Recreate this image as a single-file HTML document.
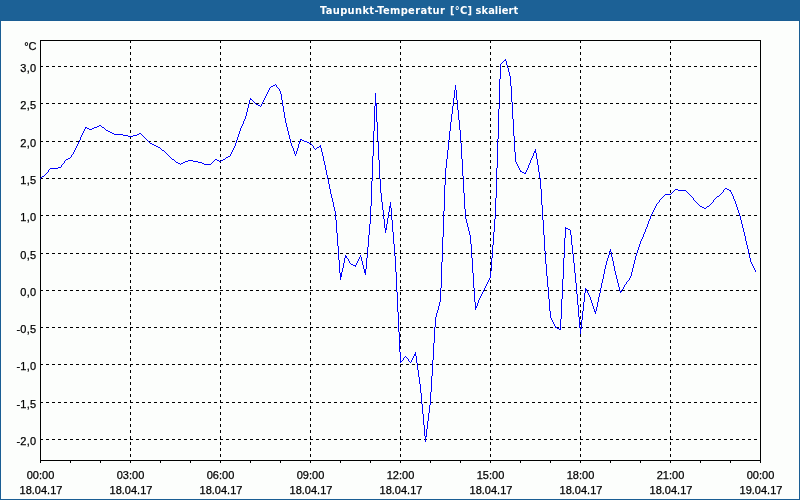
<!DOCTYPE html>
<html><head><meta charset="utf-8"><title>Taupunkt-Temperatur</title>
<style>
html,body{margin:0;padding:0;background:#fcfefc;}
#w{position:relative;width:800px;height:500px;overflow:hidden;background:#fcfefc;}
#t{position:absolute;left:0;top:0;width:800px;height:20px;background:#1c6196;color:#fff;font:bold 11px "DejaVu Sans Condensed","Liberation Sans",sans-serif;letter-spacing:0.29px;white-space:nowrap;line-height:20px;}
#t span{position:absolute;top:1px;}
#bl,#br,#bb,#bt{position:absolute;background:#1a5e94;}
#bt{left:0;top:20px;width:800px;height:1px;}
#bl{left:0;top:20px;width:1px;height:480px;}
#br{left:799px;top:20px;width:1px;height:480px;}
#bb{left:0;top:499px;width:800px;height:1px;}
</style></head><body>
<div id="w">
<svg width="800" height="500" viewBox="0 0 800 500" style="position:absolute;left:0;top:0">
<g shape-rendering="crispEdges" stroke="#000" stroke-width="1" fill="none">
<line x1="40" y1="66.5" x2="760" y2="66.5" stroke-dasharray="3 3"/>
<line x1="40" y1="103.5" x2="760" y2="103.5" stroke-dasharray="3 3"/>
<line x1="40" y1="141.5" x2="760" y2="141.5" stroke-dasharray="3 3"/>
<line x1="40" y1="178.5" x2="760" y2="178.5" stroke-dasharray="3 3"/>
<line x1="40" y1="215.5" x2="760" y2="215.5" stroke-dasharray="3 3"/>
<line x1="40" y1="253.5" x2="760" y2="253.5" stroke-dasharray="3 3"/>
<line x1="40" y1="290.5" x2="760" y2="290.5" stroke-dasharray="3 3"/>
<line x1="40" y1="327.5" x2="760" y2="327.5" stroke-dasharray="3 3"/>
<line x1="40" y1="364.5" x2="760" y2="364.5" stroke-dasharray="3 3"/>
<line x1="40" y1="402.5" x2="760" y2="402.5" stroke-dasharray="3 3"/>
<line x1="40" y1="439.5" x2="760" y2="439.5" stroke-dasharray="3 3"/>
<line x1="130.5" y1="40" x2="130.5" y2="460" stroke-dasharray="3 3"/>
<line x1="220.5" y1="40" x2="220.5" y2="460" stroke-dasharray="3 3"/>
<line x1="310.5" y1="40" x2="310.5" y2="460" stroke-dasharray="3 3"/>
<line x1="400.5" y1="40" x2="400.5" y2="460" stroke-dasharray="3 3"/>
<line x1="490.5" y1="40" x2="490.5" y2="460" stroke-dasharray="3 3"/>
<line x1="580.5" y1="40" x2="580.5" y2="460" stroke-dasharray="3 3"/>
<line x1="670.5" y1="40" x2="670.5" y2="460" stroke-dasharray="3 3"/>
<rect x="40.5" y="40.5" width="720" height="420"/>
<line x1="40.5" y1="460" x2="40.5" y2="463"/>
<line x1="70.5" y1="460" x2="70.5" y2="463"/>
<line x1="100.5" y1="460" x2="100.5" y2="463"/>
<line x1="130.5" y1="460" x2="130.5" y2="463"/>
<line x1="160.5" y1="460" x2="160.5" y2="463"/>
<line x1="190.5" y1="460" x2="190.5" y2="463"/>
<line x1="220.5" y1="460" x2="220.5" y2="463"/>
<line x1="250.5" y1="460" x2="250.5" y2="463"/>
<line x1="280.5" y1="460" x2="280.5" y2="463"/>
<line x1="310.5" y1="460" x2="310.5" y2="463"/>
<line x1="340.5" y1="460" x2="340.5" y2="463"/>
<line x1="370.5" y1="460" x2="370.5" y2="463"/>
<line x1="400.5" y1="460" x2="400.5" y2="463"/>
<line x1="430.5" y1="460" x2="430.5" y2="463"/>
<line x1="460.5" y1="460" x2="460.5" y2="463"/>
<line x1="490.5" y1="460" x2="490.5" y2="463"/>
<line x1="520.5" y1="460" x2="520.5" y2="463"/>
<line x1="550.5" y1="460" x2="550.5" y2="463"/>
<line x1="580.5" y1="460" x2="580.5" y2="463"/>
<line x1="610.5" y1="460" x2="610.5" y2="463"/>
<line x1="640.5" y1="460" x2="640.5" y2="463"/>
<line x1="670.5" y1="460" x2="670.5" y2="463"/>
<line x1="700.5" y1="460" x2="700.5" y2="463"/>
<line x1="730.5" y1="460" x2="730.5" y2="463"/>
<line x1="760.5" y1="460" x2="760.5" y2="463"/>
</g>
<path shape-rendering="crispEdges" fill="#0000ff" stroke="none" d="M40 178h1v1h-1zM41 177h1v1h-1zM42 176h1v1h-1zM43 176h1v1h-1zM44 175h1v1h-1zM45 174h1v1h-1zM46 173h1v1h-1zM47 172h1v1h-1zM48 170h1v2h-1zM49 169h1v1h-1zM50 168h1v1h-1zM51 168h1v1h-1zM52 168h1v1h-1zM53 168h1v1h-1zM54 168h1v1h-1zM55 168h1v1h-1zM56 168h1v1h-1zM57 168h1v1h-1zM58 167h1v1h-1zM59 167h1v1h-1zM60 167h1v1h-1zM61 165h1v2h-1zM62 164h1v1h-1zM63 163h1v1h-1zM64 161h1v2h-1zM65 160h1v1h-1zM66 159h1v1h-1zM67 159h1v1h-1zM68 158h1v1h-1zM69 158h1v1h-1zM70 157h1v1h-1zM71 155h1v2h-1zM72 154h1v1h-1zM73 152h1v2h-1zM74 150h1v2h-1zM75 148h1v2h-1zM76 146h1v2h-1zM77 144h1v2h-1zM78 142h1v2h-1zM79 140h1v2h-1zM80 137h1v3h-1zM81 135h1v2h-1zM82 133h1v2h-1zM83 131h1v2h-1zM84 129h1v2h-1zM85 127h1v2h-1zM86 127h1v1h-1zM87 128h1v1h-1zM88 128h1v1h-1zM89 129h1v1h-1zM90 129h1v1h-1zM91 129h1v1h-1zM92 128h1v1h-1zM93 128h1v1h-1zM94 127h1v1h-1zM95 127h1v1h-1zM96 127h1v1h-1zM97 126h1v1h-1zM98 126h1v1h-1zM99 125h1v1h-1zM100 125h1v1h-1zM101 126h1v1h-1zM102 127h1v1h-1zM103 127h1v1h-1zM104 128h1v1h-1zM105 129h1v1h-1zM106 130h1v1h-1zM107 130h1v1h-1zM108 131h1v1h-1zM109 131h1v1h-1zM110 132h1v1h-1zM111 132h1v1h-1zM112 133h1v1h-1zM113 133h1v1h-1zM114 134h1v1h-1zM115 134h1v1h-1zM116 134h1v1h-1zM117 134h1v1h-1zM118 134h1v1h-1zM119 134h1v1h-1zM120 134h1v1h-1zM121 134h1v1h-1zM122 134h1v1h-1zM123 135h1v1h-1zM124 135h1v1h-1zM125 135h1v1h-1zM126 135h1v1h-1zM127 135h1v1h-1zM128 136h1v1h-1zM129 136h1v1h-1zM130 136h1v1h-1zM131 136h1v1h-1zM132 136h1v1h-1zM133 135h1v1h-1zM134 135h1v1h-1zM135 135h1v1h-1zM136 135h1v1h-1zM137 134h1v1h-1zM138 134h1v1h-1zM139 133h1v1h-1zM140 133h1v1h-1zM141 134h1v1h-1zM142 135h1v1h-1zM143 136h1v1h-1zM144 137h1v1h-1zM145 138h1v1h-1zM146 139h1v1h-1zM147 140h1v1h-1zM148 141h1v1h-1zM149 142h1v1h-1zM150 143h1v1h-1zM151 143h1v1h-1zM152 144h1v1h-1zM153 144h1v1h-1zM154 145h1v1h-1zM155 145h1v1h-1zM156 146h1v1h-1zM157 146h1v1h-1zM158 147h1v1h-1zM159 147h1v1h-1zM160 148h1v1h-1zM161 149h1v1h-1zM162 150h1v1h-1zM163 150h1v1h-1zM164 151h1v1h-1zM165 152h1v1h-1zM166 153h1v1h-1zM167 154h1v1h-1zM168 155h1v1h-1zM169 156h1v1h-1zM170 157h1v1h-1zM171 158h1v1h-1zM172 159h1v1h-1zM173 159h1v1h-1zM174 160h1v1h-1zM175 161h1v1h-1zM176 162h1v1h-1zM177 162h1v1h-1zM178 163h1v1h-1zM179 163h1v1h-1zM180 164h1v1h-1zM181 163h1v1h-1zM182 163h1v1h-1zM183 162h1v1h-1zM184 162h1v1h-1zM185 161h1v1h-1zM186 161h1v1h-1zM187 161h1v1h-1zM188 160h1v1h-1zM189 160h1v1h-1zM190 160h1v1h-1zM191 160h1v1h-1zM192 160h1v1h-1zM193 161h1v1h-1zM194 161h1v1h-1zM195 161h1v1h-1zM196 161h1v1h-1zM197 161h1v1h-1zM198 162h1v1h-1zM199 162h1v1h-1zM200 162h1v1h-1zM201 162h1v1h-1zM202 163h1v1h-1zM203 163h1v1h-1zM204 164h1v1h-1zM205 164h1v1h-1zM206 164h1v1h-1zM207 164h1v1h-1zM208 164h1v1h-1zM209 164h1v1h-1zM210 164h1v1h-1zM211 163h1v1h-1zM212 162h1v1h-1zM213 161h1v1h-1zM214 160h1v1h-1zM215 159h1v1h-1zM216 159h1v1h-1zM217 160h1v1h-1zM218 160h1v1h-1zM219 161h1v1h-1zM220 161h1v1h-1zM221 160h1v1h-1zM222 160h1v1h-1zM223 159h1v1h-1zM224 159h1v1h-1zM225 158h1v1h-1zM226 157h1v1h-1zM227 157h1v1h-1zM228 156h1v1h-1zM229 156h1v1h-1zM230 154h1v2h-1zM231 152h1v2h-1zM232 150h1v2h-1zM233 148h1v2h-1zM234 146h1v2h-1zM235 143h1v3h-1zM236 140h1v3h-1zM237 137h1v3h-1zM238 134h1v3h-1zM239 131h1v3h-1zM240 128h1v3h-1zM241 126h1v2h-1zM242 124h1v2h-1zM243 121h1v3h-1zM244 119h1v2h-1zM245 116h1v3h-1zM246 112h1v4h-1zM247 108h1v4h-1zM248 104h1v4h-1zM249 100h1v4h-1zM250 98h1v2h-1zM251 99h1v1h-1zM252 100h1v1h-1zM253 101h1v1h-1zM254 102h1v1h-1zM255 103h1v1h-1zM256 104h1v1h-1zM257 104h1v1h-1zM258 105h1v1h-1zM259 105h1v1h-1zM260 106h1v1h-1zM261 104h1v2h-1zM262 102h1v2h-1zM263 100h1v2h-1zM264 98h1v2h-1zM265 96h1v2h-1zM266 94h1v2h-1zM267 92h1v2h-1zM268 90h1v2h-1zM269 88h1v2h-1zM270 87h1v1h-1zM271 86h1v1h-1zM272 86h1v1h-1zM273 85h1v1h-1zM274 85h1v1h-1zM275 84h1v1h-1zM276 85h1v2h-1zM277 87h1v1h-1zM278 88h1v1h-1zM279 89h1v2h-1zM280 91h1v3h-1zM281 94h1v6h-1zM282 100h1v6h-1zM283 106h1v6h-1zM284 112h1v6h-1zM285 118h1v5h-1zM286 123h1v4h-1zM287 127h1v4h-1zM288 131h1v4h-1zM289 135h1v4h-1zM290 139h1v4h-1zM291 143h1v3h-1zM292 146h1v2h-1zM293 148h1v3h-1zM294 151h1v3h-1zM295 154h1v2h-1zM296 151h1v3h-1zM297 148h1v3h-1zM298 144h1v4h-1zM299 141h1v3h-1zM300 139h1v2h-1zM301 139h1v1h-1zM302 140h1v1h-1zM303 140h1v1h-1zM304 141h1v1h-1zM305 141h1v1h-1zM306 141h1v1h-1zM307 142h1v1h-1zM308 142h1v1h-1zM309 143h1v1h-1zM310 143h1v1h-1zM311 144h1v1h-1zM312 145h1v1h-1zM313 146h1v2h-1zM314 148h1v1h-1zM315 149h1v1h-1zM316 148h1v1h-1zM317 147h1v1h-1zM318 147h1v1h-1zM319 146h1v1h-1zM320 145h1v3h-1zM321 148h1v4h-1zM322 152h1v4h-1zM323 156h1v5h-1zM324 161h1v4h-1zM325 165h1v5h-1zM326 170h1v5h-1zM327 175h1v4h-1zM328 179h1v5h-1zM329 184h1v5h-1zM330 189h1v5h-1zM331 194h1v4h-1zM332 198h1v4h-1zM333 202h1v5h-1zM334 207h1v4h-1zM335 211h1v9h-1zM336 220h1v13h-1zM337 233h1v13h-1zM338 246h1v14h-1zM339 260h1v13h-1zM340 273h1v7h-1zM341 272h1v5h-1zM342 268h1v4h-1zM343 263h1v5h-1zM344 258h1v5h-1zM345 255h1v3h-1zM346 256h1v2h-1zM347 258h1v1h-1zM348 259h1v2h-1zM349 261h1v2h-1zM350 263h1v1h-1zM351 264h1v1h-1zM352 264h1v1h-1zM353 265h1v1h-1zM354 265h1v1h-1zM355 265h1v2h-1zM356 263h1v2h-1zM357 261h1v2h-1zM358 259h1v2h-1zM359 257h1v2h-1zM360 255h1v2h-1zM361 257h1v4h-1zM362 261h1v4h-1zM363 265h1v4h-1zM364 269h1v4h-1zM365 269h1v6h-1zM366 258h1v11h-1zM367 247h1v11h-1zM368 235h1v12h-1zM369 224h1v11h-1zM370 206h1v18h-1zM371 181h1v25h-1zM372 156h1v25h-1zM373 131h1v25h-1zM374 106h1v25h-1zM375 93h1v13h-1zM376 103h1v19h-1zM377 122h1v19h-1zM378 141h1v19h-1zM379 160h1v19h-1zM380 179h1v14h-1zM381 193h1v9h-1zM382 202h1v8h-1zM383 210h1v9h-1zM384 219h1v9h-1zM385 228h1v5h-1zM386 224h1v6h-1zM387 218h1v6h-1zM388 212h1v6h-1zM389 206h1v6h-1zM390 202h1v6h-1zM391 208h1v12h-1zM392 220h1v12h-1zM393 232h1v12h-1zM394 244h1v12h-1zM395 256h1v16h-1zM396 272h1v20h-1zM397 292h1v20h-1zM398 312h1v20h-1zM399 332h1v20h-1zM400 352h1v11h-1zM401 361h1v1h-1zM402 360h1v1h-1zM403 358h1v2h-1zM404 357h1v1h-1zM405 356h1v1h-1zM406 357h1v1h-1zM407 358h1v1h-1zM408 359h1v2h-1zM409 361h1v1h-1zM410 362h1v1h-1zM411 360h1v2h-1zM412 358h1v2h-1zM413 356h1v2h-1zM414 354h1v2h-1zM415 352h1v4h-1zM416 356h1v7h-1zM417 363h1v7h-1zM418 370h1v7h-1zM419 377h1v7h-1zM420 384h1v9h-1zM421 393h1v11h-1zM422 404h1v10h-1zM423 414h1v11h-1zM424 425h1v11h-1zM425 436h1v6h-1zM426 429h1v8h-1zM427 421h1v8h-1zM428 413h1v8h-1zM429 405h1v8h-1zM430 392h1v13h-1zM431 376h1v16h-1zM432 360h1v16h-1zM433 343h1v17h-1zM434 327h1v16h-1zM435 317h1v10h-1zM436 313h1v4h-1zM437 310h1v3h-1zM438 306h1v4h-1zM439 302h1v4h-1zM440 288h1v14h-1zM441 262h1v26h-1zM442 237h1v25h-1zM443 211h1v26h-1zM444 185h1v26h-1zM445 168h1v17h-1zM446 159h1v9h-1zM447 150h1v9h-1zM448 140h1v10h-1zM449 131h1v9h-1zM450 122h1v9h-1zM451 114h1v8h-1zM452 106h1v8h-1zM453 98h1v8h-1zM454 90h1v8h-1zM455 85h1v5h-1zM456 90h1v10h-1zM457 100h1v10h-1zM458 110h1v10h-1zM459 120h1v10h-1zM460 130h1v13h-1zM461 143h1v16h-1zM462 159h1v17h-1zM463 176h1v17h-1zM464 193h1v16h-1zM465 209h1v10h-1zM466 219h1v4h-1zM467 223h1v4h-1zM468 227h1v4h-1zM469 231h1v4h-1zM470 235h1v9h-1zM471 244h1v14h-1zM472 258h1v15h-1zM473 273h1v15h-1zM474 288h1v14h-1zM475 302h1v8h-1zM476 306h1v2h-1zM477 303h1v3h-1zM478 300h1v3h-1zM479 298h1v2h-1zM480 296h1v2h-1zM481 294h1v2h-1zM482 292h1v2h-1zM483 290h1v2h-1zM484 288h1v2h-1zM485 286h1v2h-1zM486 284h1v2h-1zM487 282h1v2h-1zM488 280h1v2h-1zM489 278h1v2h-1zM490 271h1v7h-1zM491 258h1v13h-1zM492 245h1v13h-1zM493 232h1v13h-1zM494 219h1v13h-1zM495 198h1v21h-1zM496 168h1v30h-1zM497 139h1v29h-1zM498 109h1v30h-1zM499 79h1v30h-1zM500 64h1v15h-1zM501 63h1v1h-1zM502 62h1v1h-1zM503 61h1v1h-1zM504 60h1v1h-1zM505 59h1v2h-1zM506 61h1v4h-1zM507 65h1v3h-1zM508 68h1v4h-1zM509 72h1v4h-1zM510 76h1v10h-1zM511 86h1v16h-1zM512 102h1v17h-1zM513 119h1v17h-1zM514 136h1v16h-1zM515 152h1v10h-1zM516 162h1v2h-1zM517 164h1v2h-1zM518 166h1v2h-1zM519 168h1v2h-1zM520 170h1v2h-1zM521 171h1v1h-1zM522 172h1v1h-1zM523 172h1v1h-1zM524 173h1v1h-1zM525 172h1v2h-1zM526 170h1v2h-1zM527 168h1v2h-1zM528 165h1v3h-1zM529 163h1v2h-1zM530 160h1v3h-1zM531 158h1v2h-1zM532 156h1v2h-1zM533 153h1v3h-1zM534 151h1v2h-1zM535 149h1v4h-1zM536 153h1v6h-1zM537 159h1v6h-1zM538 165h1v7h-1zM539 172h1v6h-1zM540 178h1v11h-1zM541 189h1v16h-1zM542 205h1v15h-1zM543 220h1v15h-1zM544 235h1v16h-1zM545 251h1v13h-1zM546 264h1v12h-1zM547 276h1v11h-1zM548 287h1v12h-1zM549 299h1v12h-1zM550 311h1v7h-1zM551 318h1v2h-1zM552 320h1v2h-1zM553 322h1v2h-1zM554 324h1v2h-1zM555 326h1v2h-1zM556 327h1v1h-1zM557 328h1v1h-1zM558 328h1v1h-1zM559 329h1v1h-1zM560 319h1v11h-1zM561 299h1v20h-1zM562 279h1v20h-1zM563 258h1v21h-1zM564 238h1v20h-1zM565 227h1v11h-1zM566 228h1v1h-1zM567 228h1v1h-1zM568 229h1v1h-1zM569 229h1v1h-1zM570 230h1v5h-1zM571 235h1v10h-1zM572 245h1v9h-1zM573 254h1v9h-1zM574 263h1v10h-1zM575 273h1v10h-1zM576 283h1v11h-1zM577 294h1v11h-1zM578 305h1v12h-1zM579 317h1v11h-1zM580 328h1v6h-1zM581 320h1v9h-1zM582 311h1v9h-1zM583 302h1v9h-1zM584 293h1v9h-1zM585 288h1v5h-1zM586 289h1v2h-1zM587 291h1v2h-1zM588 293h1v2h-1zM589 295h1v2h-1zM590 297h1v3h-1zM591 300h1v3h-1zM592 303h1v3h-1zM593 306h1v3h-1zM594 309h1v3h-1zM595 311h1v3h-1zM596 307h1v4h-1zM597 302h1v5h-1zM598 297h1v5h-1zM599 293h1v4h-1zM600 288h1v5h-1zM601 283h1v5h-1zM602 279h1v4h-1zM603 274h1v5h-1zM604 269h1v5h-1zM605 265h1v4h-1zM606 261h1v4h-1zM607 258h1v3h-1zM608 255h1v3h-1zM609 251h1v4h-1zM610 249h1v3h-1zM611 252h1v5h-1zM612 257h1v4h-1zM613 261h1v5h-1zM614 266h1v5h-1zM615 271h1v4h-1zM616 275h1v4h-1zM617 279h1v4h-1zM618 283h1v4h-1zM619 287h1v4h-1zM620 291h1v2h-1zM621 290h1v2h-1zM622 289h1v1h-1zM623 287h1v2h-1zM624 285h1v2h-1zM625 284h1v1h-1zM626 282h1v2h-1zM627 281h1v1h-1zM628 280h1v1h-1zM629 278h1v2h-1zM630 276h1v2h-1zM631 272h1v4h-1zM632 268h1v4h-1zM633 264h1v4h-1zM634 260h1v4h-1zM635 256h1v4h-1zM636 253h1v3h-1zM637 250h1v3h-1zM638 247h1v3h-1zM639 244h1v3h-1zM640 241h1v3h-1zM641 239h1v2h-1zM642 237h1v2h-1zM643 234h1v3h-1zM644 232h1v2h-1zM645 229h1v3h-1zM646 227h1v2h-1zM647 224h1v3h-1zM648 221h1v3h-1zM649 219h1v2h-1zM650 216h1v3h-1zM651 214h1v2h-1zM652 212h1v2h-1zM653 210h1v2h-1zM654 208h1v2h-1zM655 206h1v2h-1zM656 204h1v2h-1zM657 203h1v1h-1zM658 202h1v1h-1zM659 200h1v2h-1zM660 199h1v1h-1zM661 198h1v1h-1zM662 197h1v1h-1zM663 196h1v1h-1zM664 195h1v1h-1zM665 194h1v1h-1zM666 194h1v1h-1zM667 194h1v1h-1zM668 194h1v1h-1zM669 194h1v1h-1zM670 194h1v1h-1zM671 193h1v1h-1zM672 192h1v1h-1zM673 191h1v1h-1zM674 190h1v1h-1zM675 189h1v1h-1zM676 189h1v1h-1zM677 189h1v1h-1zM678 190h1v1h-1zM679 190h1v1h-1zM680 190h1v1h-1zM681 190h1v1h-1zM682 190h1v1h-1zM683 190h1v1h-1zM684 190h1v1h-1zM685 190h1v1h-1zM686 191h1v1h-1zM687 192h1v1h-1zM688 193h1v1h-1zM689 194h1v1h-1zM690 195h1v1h-1zM691 196h1v1h-1zM692 197h1v1h-1zM693 198h1v2h-1zM694 200h1v1h-1zM695 201h1v1h-1zM696 202h1v1h-1zM697 203h1v1h-1zM698 204h1v1h-1zM699 205h1v1h-1zM700 206h1v1h-1zM701 206h1v1h-1zM702 207h1v1h-1zM703 207h1v1h-1zM704 208h1v1h-1zM705 208h1v1h-1zM706 207h1v1h-1zM707 206h1v1h-1zM708 206h1v1h-1zM709 205h1v1h-1zM710 204h1v1h-1zM711 203h1v1h-1zM712 202h1v1h-1zM713 200h1v2h-1zM714 199h1v1h-1zM715 198h1v1h-1zM716 197h1v1h-1zM717 196h1v1h-1zM718 196h1v1h-1zM719 195h1v1h-1zM720 194h1v1h-1zM721 193h1v1h-1zM722 192h1v1h-1zM723 190h1v2h-1zM724 189h1v1h-1zM725 188h1v1h-1zM726 188h1v1h-1zM727 189h1v1h-1zM728 189h1v1h-1zM729 190h1v1h-1zM730 190h1v2h-1zM731 192h1v2h-1zM732 194h1v2h-1zM733 196h1v3h-1zM734 199h1v2h-1zM735 201h1v3h-1zM736 204h1v3h-1zM737 207h1v3h-1zM738 210h1v3h-1zM739 213h1v3h-1zM740 216h1v4h-1zM741 220h1v4h-1zM742 224h1v4h-1zM743 228h1v4h-1zM744 232h1v4h-1zM745 236h1v5h-1zM746 241h1v4h-1zM747 245h1v4h-1zM748 249h1v5h-1zM749 254h1v4h-1zM750 258h1v4h-1zM751 262h1v2h-1zM752 264h1v2h-1zM753 266h1v2h-1zM754 268h1v2h-1zM755 270h1v2h-1z"/>
<g font-family="'Liberation Sans', sans-serif" font-size="11" fill="#000" stroke="#000" stroke-width="0.25">
<text x="36.5" y="50" text-anchor="end">°C</text>
<text x="36.4" y="72" text-anchor="end" letter-spacing="0.25">3,0</text>
<text x="36.4" y="109" text-anchor="end" letter-spacing="0.25">2,5</text>
<text x="36.4" y="147" text-anchor="end" letter-spacing="0.25">2,0</text>
<text x="36.4" y="184" text-anchor="end" letter-spacing="0.25">1,5</text>
<text x="36.4" y="221" text-anchor="end" letter-spacing="0.25">1,0</text>
<text x="36.4" y="259" text-anchor="end" letter-spacing="0.25">0,5</text>
<text x="36.4" y="296" text-anchor="end" letter-spacing="0.25">0,0</text>
<text x="36.4" y="333" text-anchor="end" letter-spacing="0.25">-0,5</text>
<text x="36.4" y="370" text-anchor="end" letter-spacing="0.25">-1,0</text>
<text x="36.4" y="408" text-anchor="end" letter-spacing="0.25">-1,5</text>
<text x="36.4" y="445" text-anchor="end" letter-spacing="0.25">-2,0</text>
<text x="40.5" y="479" text-anchor="middle">00:00</text>
<text x="41" y="494" text-anchor="middle">18.04.17</text>
<text x="130.5" y="479" text-anchor="middle">03:00</text>
<text x="131" y="494" text-anchor="middle">18.04.17</text>
<text x="220.5" y="479" text-anchor="middle">06:00</text>
<text x="221" y="494" text-anchor="middle">18.04.17</text>
<text x="310.5" y="479" text-anchor="middle">09:00</text>
<text x="311" y="494" text-anchor="middle">18.04.17</text>
<text x="400.5" y="479" text-anchor="middle">12:00</text>
<text x="401" y="494" text-anchor="middle">18.04.17</text>
<text x="490.5" y="479" text-anchor="middle">15:00</text>
<text x="491" y="494" text-anchor="middle">18.04.17</text>
<text x="580.5" y="479" text-anchor="middle">18:00</text>
<text x="581" y="494" text-anchor="middle">18.04.17</text>
<text x="670.5" y="479" text-anchor="middle">21:00</text>
<text x="671" y="494" text-anchor="middle">18.04.17</text>
<text x="760.5" y="479" text-anchor="middle">00:00</text>
<text x="761" y="494" text-anchor="middle">19.04.17</text>
</g>
</svg>
<div id="t"><span style="left:320px;letter-spacing:0.36px">Taupunkt-Temperatur</span> <span style="left:450px;letter-spacing:0.29px">[°C]</span> <span style="left:475.6px;letter-spacing:0.04px">skaliert</span></div>
<div id="bt"></div><div id="bl"></div><div id="br"></div><div id="bb"></div>
</div>
</body></html>
